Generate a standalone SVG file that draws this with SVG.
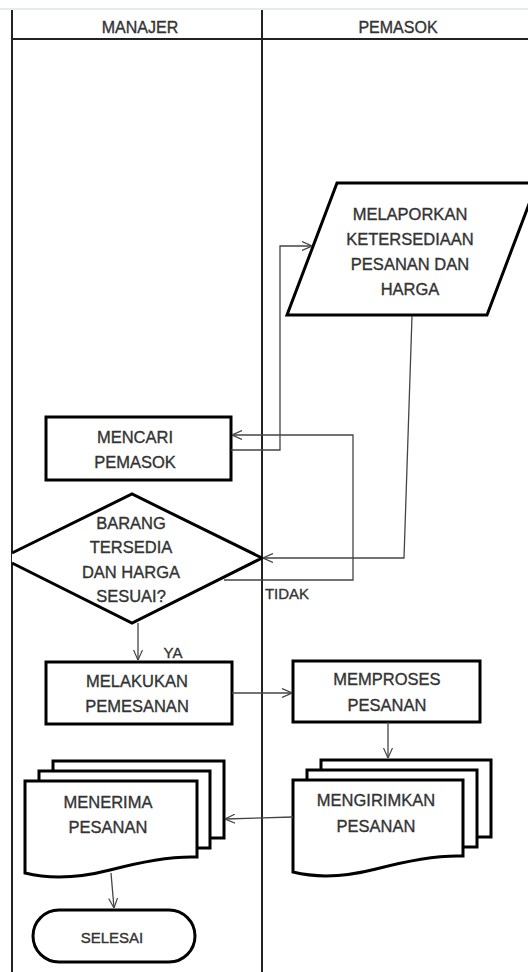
<svg xmlns="http://www.w3.org/2000/svg" width="528" height="972" viewBox="0 0 528 972">
<defs>
<marker id="arr" viewBox="0 0 10 10" refX="10" refY="5" markerWidth="10" markerHeight="10" markerUnits="userSpaceOnUse" orient="auto">
<path d="M0,0.5 L10,5 L0,9.5" fill="none" stroke="#444" stroke-width="1.2"/>
</marker>
</defs>
<style>
.lane{stroke:#222;stroke-width:2;fill:none}
.node{fill:#fff;stroke:#000;stroke-width:3;stroke-linejoin:miter}
.conn{fill:none;stroke:#444;stroke-width:1.3}
.t{font-family:"Liberation Sans",Arial,sans-serif;font-size:16.5px;fill:#333;stroke:#333;stroke-width:0.35;text-anchor:middle;dominant-baseline:central}
.h{font-family:"Liberation Sans",Arial,sans-serif;font-size:16px;fill:#333;stroke:#333;stroke-width:0.35;text-anchor:middle;dominant-baseline:central}
</style>
<rect width="528" height="972" fill="#fff"/>
<g id="lanes">
<line x1="0" y1="9" x2="528" y2="9" stroke="#dfe5ea" stroke-width="1.5"/>
<line class="lane" x1="12" y1="10" x2="12" y2="972"/>
<line class="lane" x1="262" y1="10" x2="262" y2="972"/>
<line class="lane" x1="12" y1="39" x2="528" y2="39"/>
<text class="h" x="140" y="27">MANAJER</text>
<text class="h" x="398" y="27">PEMASOK</text>
</g>
<g id="melaporkan">
<polygon class="node" points="337,183 537,183 487,315 287,315"/>
<text class="t" x="410" y="214">MELAPORKAN</text>
<text class="t" x="410" y="239">KETERSEDIAAN</text>
<text class="t" x="410" y="264">PESANAN DAN</text>
<text class="t" x="410" y="289">HARGA</text>
</g>
<g id="mencari">
<rect class="node" x="46" y="417" width="185" height="63"/>
<text class="t" x="135" y="437">MENCARI</text>
<text class="t" x="135" y="462">PEMASOK</text>
</g>
<g id="keputusan">
<path d="M12,553 L132,494 L262,558 L132,623 L12,563" fill="#fff" stroke="#000" stroke-width="3"/>
<text class="t" x="131" y="523">BARANG</text>
<text class="t" x="131" y="547">TERSEDIA</text>
<text class="t" x="131" y="572">DAN HARGA</text>
<text class="t" x="131" y="596">SESUAI?</text>
</g>
<g id="melakukan">
<rect class="node" x="46" y="662" width="186" height="62"/>
<text class="t" x="137" y="681">MELAKUKAN</text>
<text class="t" x="137" y="706">PEMESANAN</text>
</g>
<g id="memproses">
<rect class="node" x="293" y="661" width="187" height="61"/>
<text class="t" x="387" y="679">MEMPROSES</text>
<text class="t" x="387" y="705">PESANAN</text>
</g>
<g id="menerima">
<rect class="node" x="53" y="761" width="171" height="77"/>
<rect class="node" x="39" y="771" width="171" height="77"/>
<path class="node" d="M25,781 H197 V857 C170,856 140,862 110,870 C75,879 45,878 25,873 Z"/>
<text class="t" x="108" y="802">MENERIMA</text>
<text class="t" x="108" y="827">PESANAN</text>
</g>
<g id="mengirimkan">
<rect class="node" x="321" y="760" width="170" height="77"/>
<rect class="node" x="307" y="770" width="170" height="77"/>
<path class="node" d="M293,780 H463 V856 C436,855 406,861 376,869 C341,878 313,877 293,872 Z"/>
<text class="t" x="376" y="800">MENGIRIMKAN</text>
<text class="t" x="376" y="826">PESANAN</text>
</g>
<g id="selesai">
<rect class="node" x="33" y="910" width="162" height="52" rx="26" ry="26"/>
<text class="t" x="112" y="937" style="font-size:15px">SELESAI</text>
</g>
<g id="connectors">
<path class="conn" d="M231,450 H280 V246 H312" marker-end="url(#arr)"/>
<path class="conn" d="M412,316 L404,558 H263" marker-end="url(#arr)"/>
<path class="conn" d="M224,580 H353 V435 H232" marker-end="url(#arr)"/>
<path class="conn" d="M138,623 V660" marker-end="url(#arr)"/>
<path class="conn" d="M232,693 H292" marker-end="url(#arr)"/>
<path class="conn" d="M388,722 V758" marker-end="url(#arr)"/>
<path class="conn" d="M293,817 L225,819" marker-end="url(#arr)"/>
<path class="conn" d="M111,873 L114,908" marker-end="url(#arr)"/>
<text class="t" x="287" y="593" style="font-size:15px">TIDAK</text>
<text class="t" x="173" y="652" style="font-size:15px">YA</text>
</g>
</svg>
